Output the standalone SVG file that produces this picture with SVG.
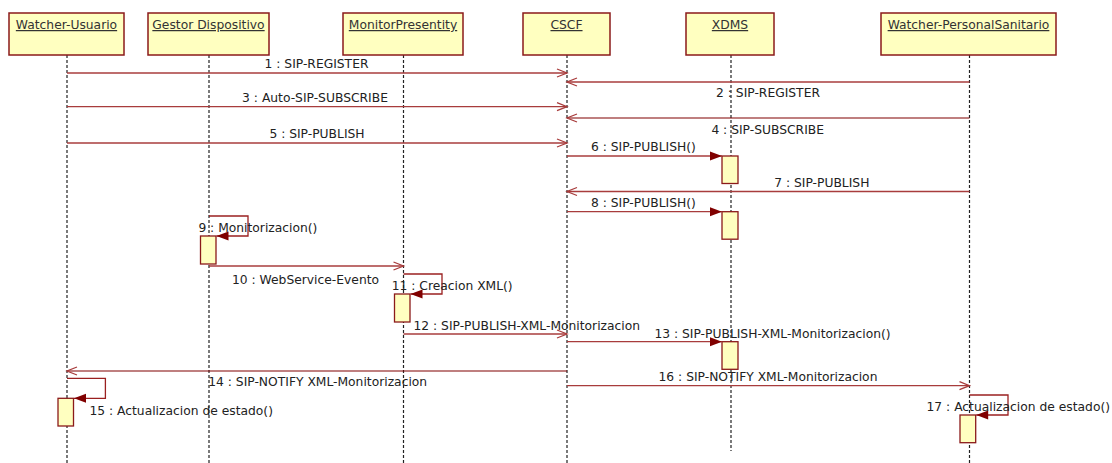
<svg xmlns="http://www.w3.org/2000/svg" width="1112" height="463" viewBox="0 0 1112 463">
<defs>
<style>
.box{fill:#ffffc0;stroke:#8b1a1a;stroke-width:1.5}
.act{fill:#ffffc0;stroke:#8b1a1a;stroke-width:1.3}
.life{stroke:#222;stroke-width:1.2;stroke-dasharray:3 2;fill:none}
.name{font-family:"DejaVu Sans",Verdana,sans-serif;font-size:12.3px;fill:#333;text-anchor:middle;text-decoration:underline}
.lbl{font-family:"DejaVu Sans",Verdana,sans-serif;font-size:12.3px;fill:#222;text-anchor:middle}
.msg{stroke:#a83c3c;stroke-width:1.3;fill:none}
.dark{stroke:#800000;stroke-width:1.2}
.async{marker-end:url(#open)}
.sync{marker-end:url(#filled)}
.self{stroke:#9a2020;stroke-width:1.3;fill:none;marker-end:url(#filled)}
</style>
<marker id="open" viewBox="-12 -6 14 12" markerWidth="14" markerHeight="12" refX="0" refY="0" orient="auto" markerUnits="userSpaceOnUse">
<path d="M-10,-4 L0,0 L-10,4" fill="none" stroke="#a83c3c" stroke-width="1.3"/>
</marker>
<marker id="filled" viewBox="-14 -6 15 12" markerWidth="15" markerHeight="12" refX="0" refY="0" orient="auto" markerUnits="userSpaceOnUse">
<path d="M-12,-4.5 L0,0 L-12,4.5 Z" fill="#800000"/>
</marker>
</defs>
<rect width="1112" height="463" fill="#ffffff"/>

<g id="watcher-usuario">
<line class="life" x1="67" y1="55" x2="67" y2="463"/>
<rect class="box" x="9" y="13" width="115" height="42"/>
<text class="name" x="66.5" y="29">Watcher-Usuario</text>
<rect class="act" x="58" y="398.3" width="15.5" height="27.7"/>
</g>

<g id="gestor-dispositivo">
<line class="life" x1="209" y1="55" x2="209" y2="463"/>
<rect class="box" x="148" y="13" width="121" height="42"/>
<text class="name" x="208.5" y="29">Gestor Dispositivo</text>
<rect class="act" x="200.5" y="236" width="15.5" height="28"/>
</g>

<g id="monitor-presentity">
<line class="life" x1="403.5" y1="55" x2="403.5" y2="463"/>
<rect class="box" x="343" y="13" width="120" height="42"/>
<text class="name" x="403" y="29">MonitorPresentity</text>
<rect class="act" x="394.5" y="294" width="15.5" height="28"/>
</g>

<g id="cscf">
<line class="life" x1="567" y1="55" x2="567" y2="463"/>
<rect class="box" x="523" y="13" width="87" height="42"/>
<text class="name" x="566.5" y="29">CSCF</text>
</g>

<g id="xdms">
<line class="life" x1="731" y1="55" x2="731" y2="451"/>
<rect class="box" x="686" y="13" width="88" height="42"/>
<text class="name" x="730" y="29">XDMS</text>
<rect class="act" x="722" y="156" width="16" height="27.5"/>
<rect class="act" x="722" y="211.7" width="16" height="27.5"/>
<rect class="act" x="722" y="341.7" width="16" height="27.6"/>
</g>

<g id="watcher-personalsanitario">
<line class="life" x1="969.5" y1="55" x2="969.5" y2="463"/>
<rect class="box" x="881" y="13" width="175" height="42"/>
<text class="name" x="968.5" y="29">Watcher-PersonalSanitario</text>
<rect class="act" x="960" y="415" width="15.7" height="27.7"/>
</g>

<g id="connectors">
<line class="msg async" x1="67" y1="73" x2="567" y2="73"/>
<text class="lbl" x="316.5" y="68">1 : SIP-REGISTER</text>

<line class="msg async" x1="969.5" y1="82" x2="567" y2="82"/>
<text class="lbl" x="768" y="97">2 : SIP-REGISTER</text>

<line class="msg async" x1="67" y1="106.7" x2="567" y2="106.7"/>
<text class="lbl" x="315" y="102">3 : Auto-SIP-SUBSCRIBE</text>

<line class="msg dark async" x1="969.5" y1="118" x2="567" y2="118"/>
<text class="lbl" x="767.7" y="133.5">4 : SIP-SUBSCRIBE</text>

<line class="msg async" x1="67" y1="143" x2="567" y2="143"/>
<text class="lbl" x="317" y="137.5">5 : SIP-PUBLISH</text>

<line class="msg sync" x1="567" y1="156" x2="722" y2="156"/>
<text class="lbl" x="643.4" y="151">6 : SIP-PUBLISH()</text>

<line class="msg async" x1="969.5" y1="191.5" x2="567" y2="191.5"/>
<text class="lbl" x="821.8" y="187">7 : SIP-PUBLISH</text>

<line class="msg sync" x1="567" y1="211.7" x2="722" y2="211.7"/>
<text class="lbl" x="643.4" y="207">8 : SIP-PUBLISH()</text>

<path class="self" d="M209,216 H248 V236 H216.5"/>
<text class="lbl" x="257.9" y="231.5">9 : Monitorizacion()</text>

<line class="msg async" x1="209" y1="266" x2="403.5" y2="266"/>
<text class="lbl" x="305.5" y="283.5">10 : WebService-Evento</text>

<path class="self" d="M403.5,274 H442 V294 H410.5"/>
<text class="lbl" x="452.2" y="289.5">11 : Creacion XML()</text>

<line class="msg async" x1="403.5" y1="334" x2="567" y2="334"/>
<text class="lbl" x="526.8" y="329.5">12 : SIP-PUBLISH-XML-Monitorizacion</text>

<line class="msg sync" x1="567" y1="341.7" x2="722" y2="341.7"/>
<text class="lbl" x="772.5" y="338">13 : SIP-PUBLISH-XML-Monitorizacion()</text>

<line class="msg dark async" x1="567" y1="371" x2="67" y2="371"/>
<text class="lbl" x="317.7" y="386">14 : SIP-NOTIFY XML-Monitorizacion</text>

<path class="self" d="M67,378.3 H105.4 V398.3 H74"/>
<text class="lbl" x="181.2" y="414.5">15 : Actualizacion de estado()</text>

<line class="msg async" x1="567" y1="385.7" x2="969.5" y2="385.7"/>
<text class="lbl" x="768" y="380.5">16 : SIP-NOTIFY XML-Monitorizacion</text>

<path class="self" d="M969.5,395 H1008 V415 H976.2"/>
<text class="lbl" x="1018.3" y="411">17 : Actualizacion de estado()</text>
</g>
</svg>
